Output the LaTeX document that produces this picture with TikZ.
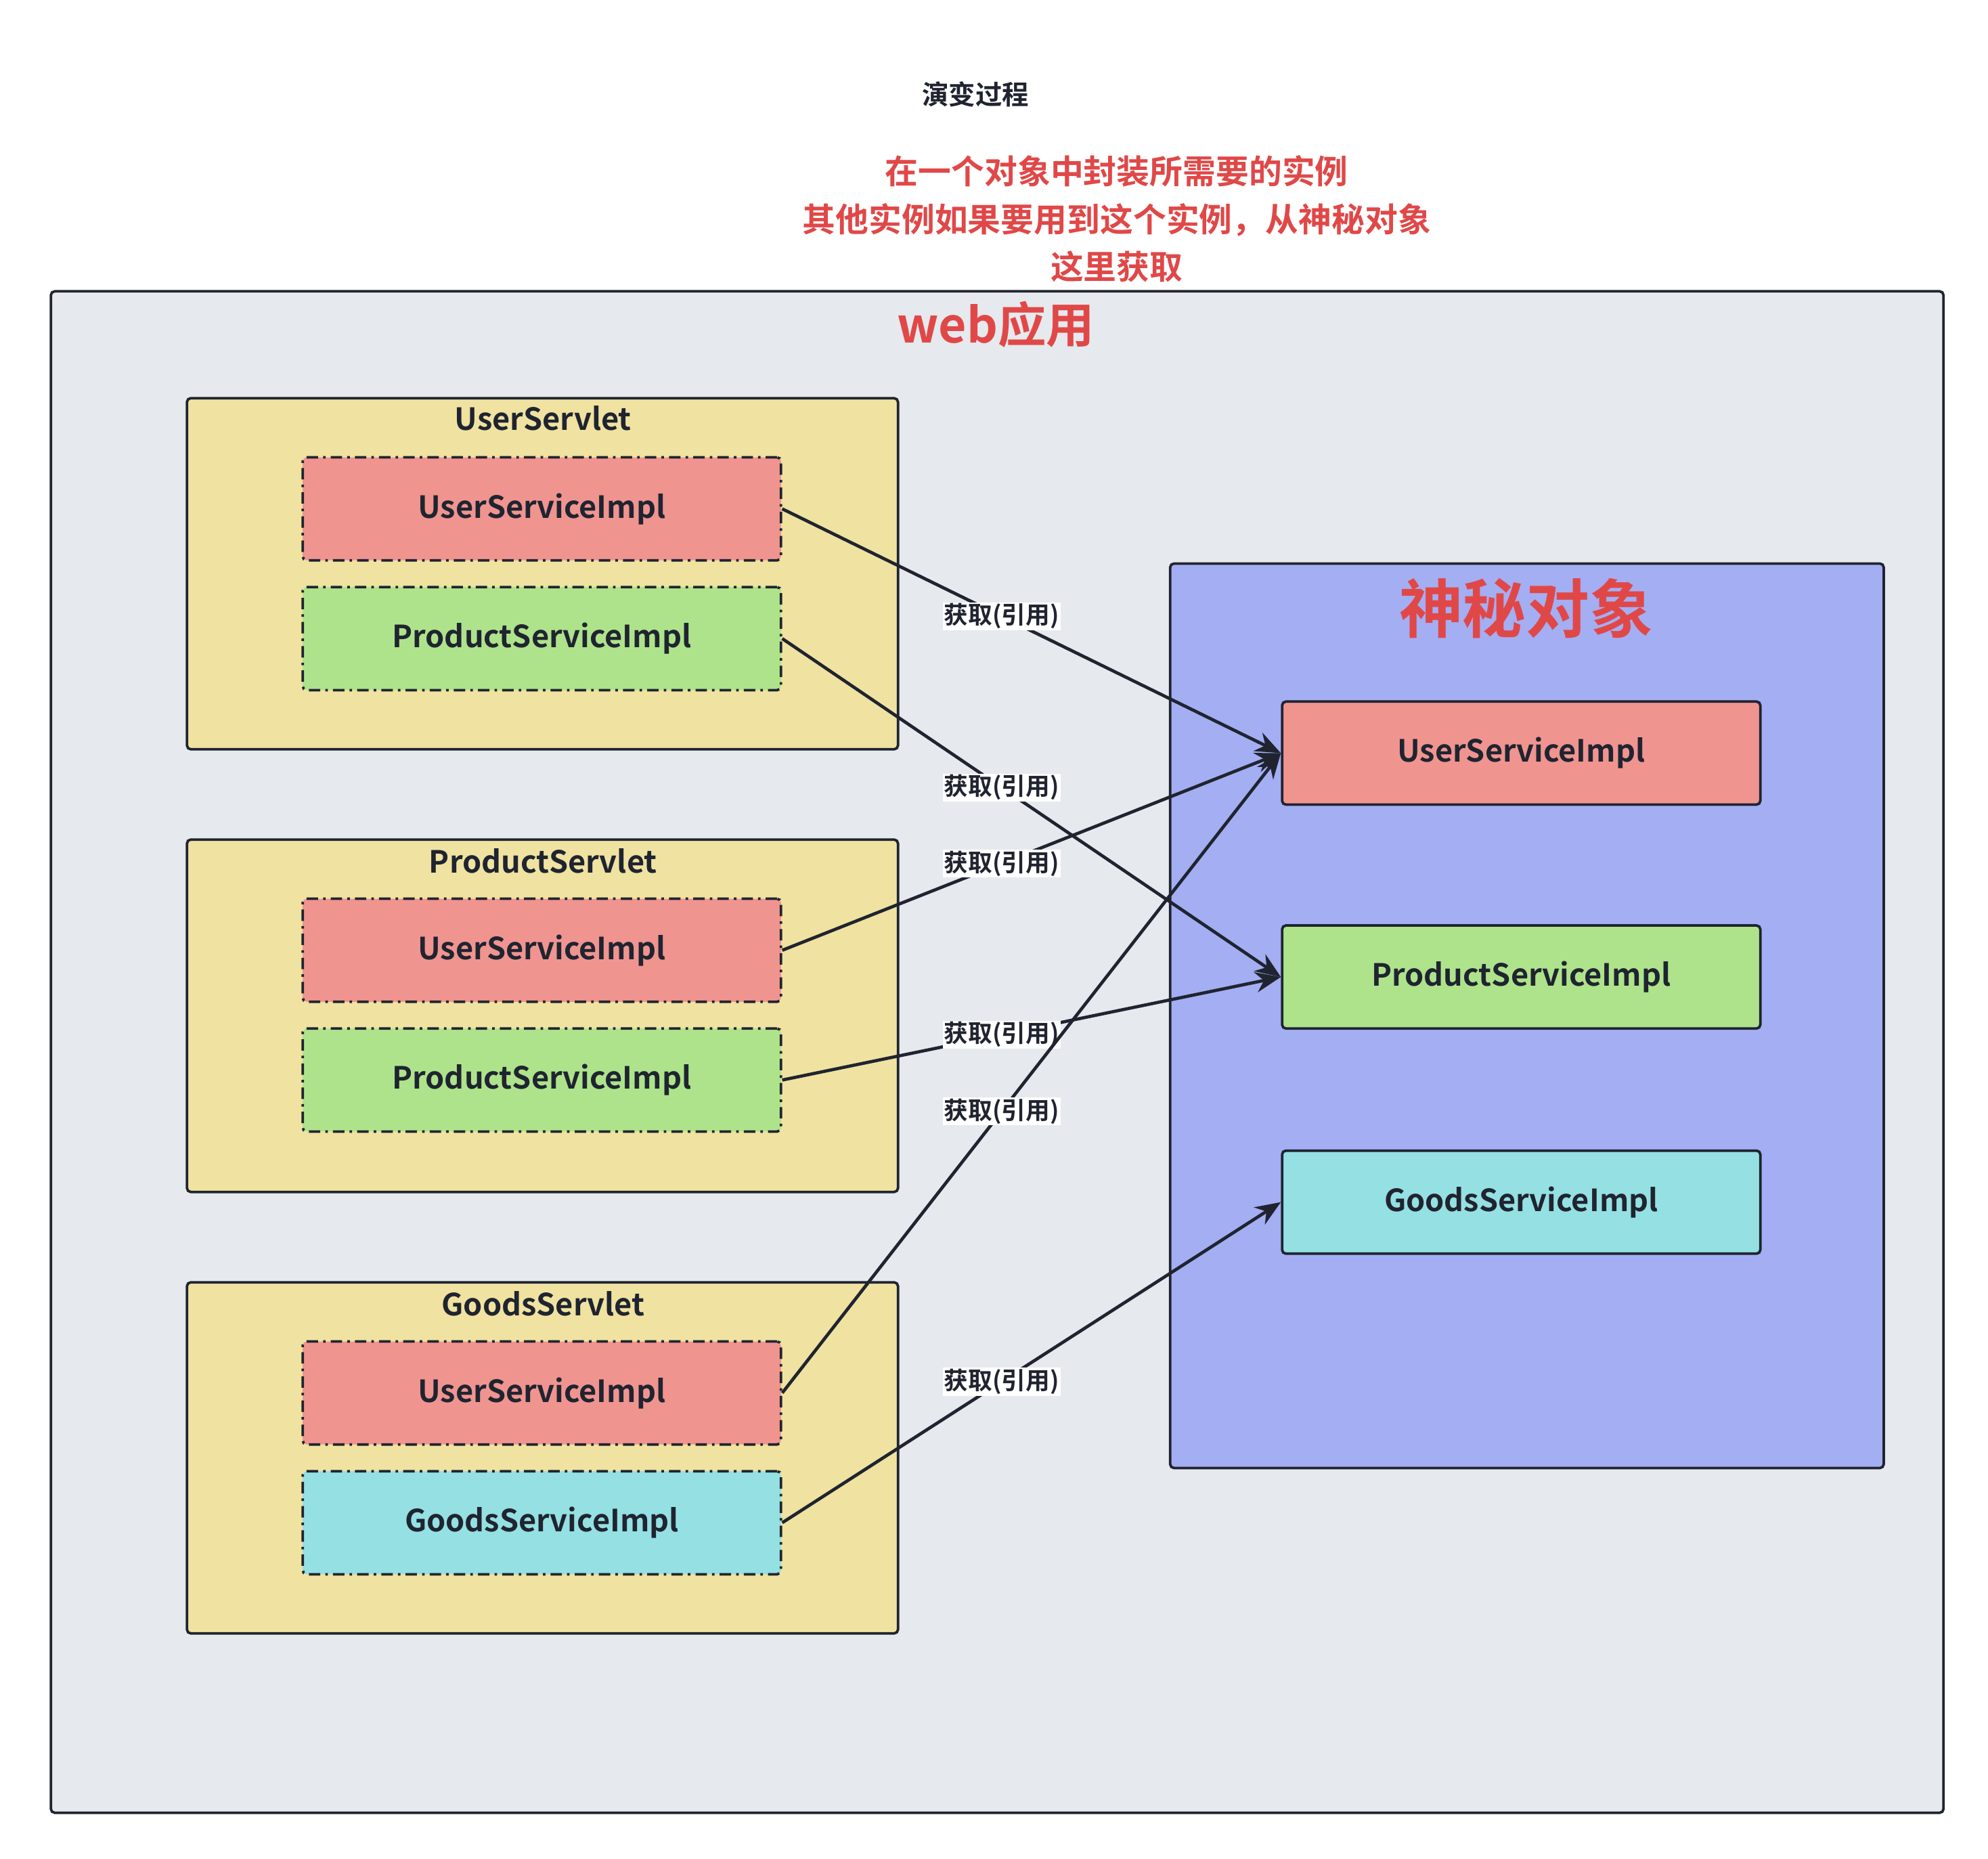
\documentclass[tikz,border=0pt]{standalone}
\usepackage{fontspec}
\setmainfont{Noto Sans CJK SC}[BoldFont={* Bold}]
\usetikzlibrary{arrows.meta}
\definecolor{dk}{HTML}{1F2430}
\definecolor{rd}{HTML}{E04848}
\definecolor{bgout}{HTML}{E6E9ED}
\definecolor{yel}{HTML}{F0E2A0}
\definecolor{pink}{HTML}{F09490}
\definecolor{grn}{HTML}{AEE38B}
\definecolor{cyn}{HTML}{94E0E2}
\definecolor{blu}{HTML}{A4AEF2}
\begin{document}
\begin{tikzpicture}[x=1pt,y=-1pt,
  box/.style={draw=dk,line width=2pt,rounded corners=3pt,inner sep=0pt},
  svc/.style={draw=dk,line width=2pt,rounded corners=3pt,minimum width=376pt,minimum height=81pt,font=\fontsize{24}{28}\selectfont\bfseries,text=dk},
  inn/.style={svc,dash pattern=on 9pt off 4pt on 2pt off 4pt},
  ttl/.style={font=\fontsize{24}{28}\selectfont\bfseries,text=dk},
  arr/.style={draw=dk,line width=2.5pt,-{Stealth[length=20pt,width=16pt]}},
  lab/.style={fill=white,inner sep=1pt,font=\fontsize{19}{22}\selectfont\bfseries,text=dk,pos=0.44}]
\useasboundingbox (0,0) rectangle (1563,1461);
\node[ttl,font=\fontsize{21}{24}\selectfont\bfseries] (t0) at (767,74) {演变过程};
\node[align=center,text=rd,font=\fontsize{26}{37.5}\selectfont\bfseries] (t1) at (878,172) {在一个对象中封装所需要的实例\\其他实例如果要用到这个实例，从神秘对象\\这里获取};
\draw[box,fill=bgout] (40,229) rectangle (1528,1425);
\node[text=rd,font=\fontsize{38}{44}\selectfont\bfseries] (web) at (783,255) {web应用};
% servlets
\draw[box,fill=yel] (147,313) rectangle (706,589);
\node[ttl] (us) at (427,329) {UserServlet};
\draw[box,fill=yel] (147,660) rectangle (706,937);
\node[ttl] (ps) at (427,677) {ProductServlet};
\draw[box,fill=yel] (147,1008) rectangle (706,1284);
\node[ttl] (gs) at (427,1025) {GoodsServlet};
\node[inn,fill=pink] (a1) at (426,400) {UserServiceImpl};
\node[inn,fill=grn] (a2) at (426,502) {ProductServiceImpl};
\node[inn,fill=pink] (b1) at (426,747) {UserServiceImpl};
\node[inn,fill=grn] (b2) at (426,849) {ProductServiceImpl};
\node[inn,fill=pink] (c1) at (426,1095) {UserServiceImpl};
\node[inn,fill=cyn] (c2) at (426,1197) {GoodsServiceImpl};
% mystery
\draw[box,fill=blu] (920,443) rectangle (1481,1154);
\node[text=rd,font=\fontsize{50}{56}\selectfont\bfseries] (m) at (1200,478) {神秘对象};
\node[svc,fill=pink] (r1) at (1196,592) {UserServiceImpl};
\node[svc,fill=grn] (r2) at (1196,768) {ProductServiceImpl};
\node[svc,fill=cyn] (r3) at (1196,945) {GoodsServiceImpl};
\draw[arr] (a1.east) -- node[lab]{获取(引用)} (r1.west);
\draw[arr] (a2.east) -- node[lab]{获取(引用)} (r2.west);
\draw[arr] (b1.east) -- node[lab]{获取(引用)} (r1.west);
\draw[arr] (b2.east) -- node[lab]{获取(引用)} (r2.west);
\draw[arr] (c1.east) -- node[lab]{获取(引用)} (r1.west);
\draw[arr] (c2.east) -- node[lab]{获取(引用)} (r3.west);
\end{tikzpicture}
\end{document}
